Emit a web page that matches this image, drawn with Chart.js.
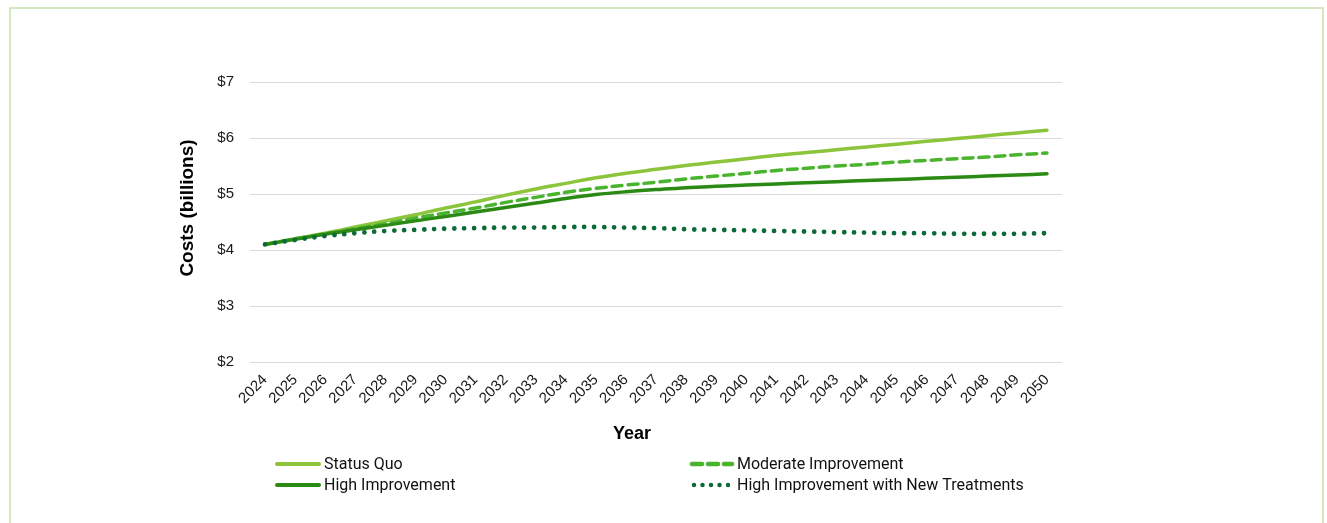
<!DOCTYPE html>
<html>
<head>
<meta charset="utf-8">
<script src="https://cdn.jsdelivr.net/npm/chart.js@4"></script>
<style>
  html, body { margin: 0; padding: 0; background: #ffffff; }
  body { width: 1327px; height: 523px; overflow: hidden; position: relative; }
  .frame {
    position: absolute; left: 9px; top: 7px; width: 1315px; height: 600px;
    border: 2px solid #d5e8c2; box-sizing: border-box;
  }
  .wrap { position: absolute; left: 0; top: 0; width: 1327px; height: 523px; }
</style>
</head>
<body>
<div class="frame"></div>
<div class="wrap"><canvas id="chart" width="1327" height="523"></canvas></div>
<script>
// Projected annual costs (billions of dollars), 2024–2050
const years = [
  '2024','2025','2026','2027','2028','2029','2030','2031','2032','2033','2034','2035','2036','2037',
  '2038','2039','2040','2041','2042','2043','2044','2045','2046','2047','2048','2049','2050'
];

const statusQuo = [
  4.10, 4.20, 4.30, 4.41, 4.52, 4.63, 4.75, 4.86, 4.98, 5.09, 5.19, 5.29, 5.37, 5.44,
  5.51, 5.57, 5.63, 5.69, 5.74, 5.79, 5.84, 5.89, 5.94, 5.99, 6.04, 6.09, 6.14
];

const moderateImprovement = [
  4.10, 4.20, 4.29, 4.38, 4.47, 4.57, 4.66, 4.75, 4.85, 4.94, 5.03, 5.10, 5.16, 5.21,
  5.27, 5.32, 5.37, 5.42, 5.46, 5.50, 5.53, 5.57, 5.60, 5.63, 5.66, 5.70, 5.73
];

const highImprovement = [
  4.10, 4.19, 4.28, 4.36, 4.44, 4.52, 4.60, 4.68, 4.76, 4.84, 4.92, 4.99, 5.04, 5.08,
  5.11, 5.14, 5.16, 5.18, 5.20, 5.22, 5.24, 5.26, 5.28, 5.30, 5.32, 5.34, 5.36
];

const highImprovementNewTreatments = [
  4.10, 4.18, 4.25, 4.30, 4.34, 4.36, 4.38, 4.39, 4.40, 4.40, 4.41, 4.41, 4.40, 4.39,
  4.37, 4.36, 4.35, 4.34, 4.33, 4.32, 4.31, 4.30, 4.30, 4.29, 4.29, 4.29, 4.30
];

const yTicks = [2, 3, 4, 5, 6, 7];

const seriesLabels = [
  'Status Quo',
  'Moderate Improvement',
  'High Improvement',
  'High Improvement with New Treatments'
];

const baseFont = 'Arial, "Liberation Sans", sans-serif';

// Axis titles drawn at fixed offsets from the plot area
const axisTitles = {
  id: 'axisTitles',
  afterDraw(chart) {
    const { ctx, chartArea } = chart;
    ctx.save();
    ctx.fillStyle = '#000000';
    ctx.font = 'bold 18px ' + baseFont;
    ctx.textAlign = 'center';
    ctx.textBaseline = 'middle';
    ctx.fillText('Year', (chartArea.left + chartArea.right) / 2 - 24, chartArea.bottom + 72);
    ctx.translate(chartArea.left - 62, (chartArea.top + chartArea.bottom) / 2 - 14);
    ctx.rotate(-Math.PI / 2);
    ctx.font = 'bold 19px ' + baseFont;
    ctx.fillText('Costs (billions)', 0, 0);
    ctx.restore();
  }
};

// Two-column legend below the axis
const gridLegend = {
  id: 'gridLegend',
  afterDraw(chart) {
    const { ctx } = chart;
    const cols = [277, 690];
    const rows = [464, 485];
    ctx.save();
    chart.data.datasets.forEach((ds, i) => {
      const x = cols[i % 2];
      const y = rows[Math.floor(i / 2)];
      ctx.strokeStyle = ds.borderColor;
      ctx.lineWidth = ds.legendWidth;
      ctx.lineCap = ds.borderCapStyle || 'butt';
      ctx.setLineDash(ds.legendDash || []);
      ctx.beginPath();
      ctx.moveTo(x + (ds.legendInset || 0), y);
      ctx.lineTo(x + 42, y);
      ctx.stroke();
      ctx.setLineDash([]);
      ctx.fillStyle = '#111111';
      ctx.font = '16px Roboto, sans-serif';
      ctx.textAlign = 'left';
      ctx.textBaseline = 'middle';
      ctx.fillText(ds.label, x + 47, y + 1);
    });
    ctx.restore();
  }
};

new Chart(document.getElementById('chart'), {
  type: 'line',
  data: {
    labels: years,
    datasets: [
      {
        label: seriesLabels[0],
        data: statusQuo,
        borderColor: '#8cc43c',
        borderWidth: 3.5,
        borderCapStyle: 'round',
        legendWidth: 4,
        order: 3
      },
      {
        label: seriesLabels[1],
        data: moderateImprovement,
        borderColor: '#4bb42f',
        borderWidth: 3.5,
        borderDash: [10, 6],
        borderCapStyle: 'round',
        legendWidth: 4.5,
        legendDash: [10, 6],
        legendInset: 2,
        order: 2
      },
      {
        label: seriesLabels[2],
        data: highImprovement,
        borderColor: '#2a8a14',
        borderWidth: 3.5,
        borderCapStyle: 'round',
        legendWidth: 4,
        order: 1
      },
      {
        label: seriesLabels[3],
        data: highImprovementNewTreatments,
        borderColor: '#0b6a36',
        borderWidth: 4.8,
        borderDash: [0, 10],
        borderCapStyle: 'round',
        legendWidth: 4.5,
        legendDash: [0, 8.5],
        legendInset: 4,
        order: 0
      }
    ]
  },
  options: {
    responsive: false,
    animation: false,
    events: [],
    layout: { padding: { left: 0, right: 265, top: 82, bottom: 0 } },
    elements: {
      point: { radius: 0, hoverRadius: 0 },
      line: { tension: 0.35, fill: false }
    },
    plugins: {
      legend: { display: false },
      tooltip: { enabled: false },
      title: { display: false }
    },
    scales: {
      x: {
        offset: true,
        grid: { display: false, drawTicks: false },
        border: { display: false },
        afterFit(scale) { scale.height = 161; },
        ticks: {
          color: '#1a1a1a',
          font: { family: baseFont, size: 15 },
          minRotation: 45,
          maxRotation: 45,
          autoSkip: false,
          padding: 9
        }
      },
      y: {
        min: 2,
        max: 7,
        afterFit(scale) { scale.width = 250; },
        afterBuildTicks(scale) { scale.ticks = yTicks.map(v => ({ value: v })); },
        grid: { color: '#d9d9d9', lineWidth: 1, drawTicks: false },
        border: { display: false },
        ticks: {
          color: '#1a1a1a',
          font: { family: baseFont, size: 15 },
          padding: 16,
          callback: v => '$' + v
        }
      }
    }
  },
  plugins: [axisTitles, gridLegend]
});
</script>
</body>
</html>
